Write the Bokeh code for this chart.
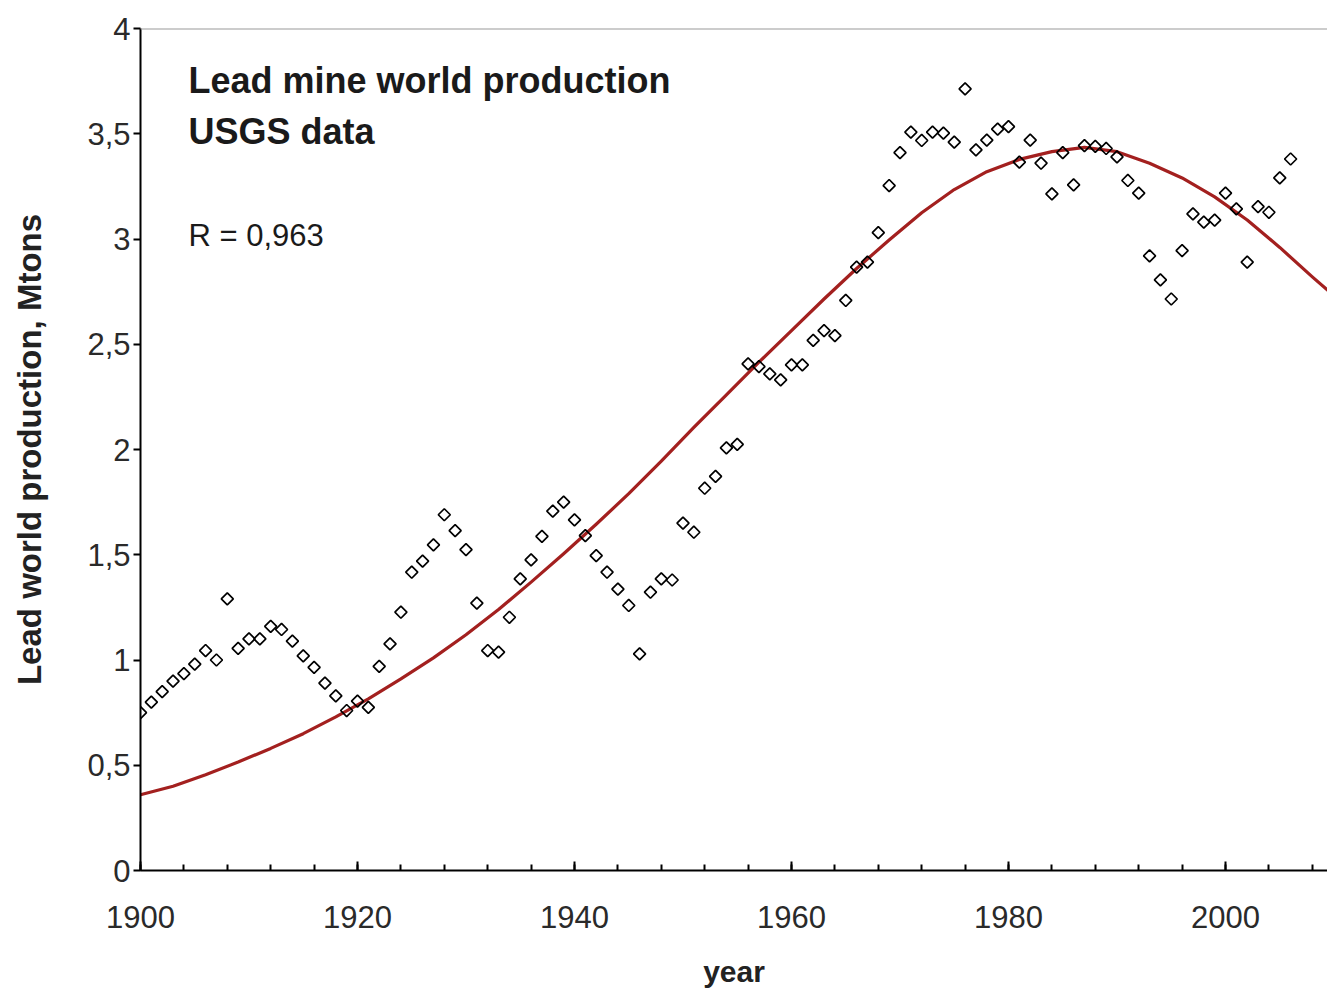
from bokeh.plotting import figure
from bokeh.models import FixedTicker, Label, Span, Range1d
from bokeh.embed import file_html
from bokeh.resources import INLINE

# Annual lead mine world production (Mt)
years = list(range(1900, 2007))
production = [
    0.75, 0.80, 0.85, 0.90, 0.935, 0.98, 1.045, 1.00, 1.29, 1.055,      # 1900s
    1.10, 1.10, 1.16, 1.145, 1.09, 1.02, 0.965, 0.89, 0.83, 0.76,       # 1910s
    0.805, 0.775, 0.97, 1.077, 1.227, 1.417, 1.47, 1.547, 1.69, 1.615,  # 1920s
    1.524, 1.27, 1.045, 1.037, 1.203, 1.385, 1.476, 1.587, 1.707, 1.75,  # 1930s
    1.666, 1.591, 1.496, 1.417, 1.337, 1.259, 1.029, 1.322, 1.385, 1.38,  # 1940s
    1.65, 1.607, 1.816, 1.872, 2.008, 2.024, 2.407, 2.394, 2.359, 2.331,  # 1950s
    2.402, 2.402, 2.518, 2.565, 2.541, 2.708, 2.866, 2.89, 3.03, 3.254,   # 1960s
    3.41, 3.508, 3.468, 3.508, 3.503, 3.46, 3.713, 3.423, 3.47, 3.522,    # 1970s
    3.534, 3.365, 3.47, 3.36, 3.214, 3.41, 3.257, 3.444, 3.44, 3.43,      # 1980s
    3.39, 3.278, 3.218, 2.92, 2.806, 2.715, 2.945, 3.119, 3.08, 3.09,     # 1990s
    3.218, 3.143, 2.89, 3.154, 3.127, 3.29, 3.38,                         # 2000s
]

# Fitted production curve
fit_years = [1900, 1903, 1906, 1909, 1912, 1915, 1918, 1921, 1924, 1927,
             1930, 1933, 1936, 1939, 1942, 1945, 1948, 1951, 1954, 1957,
             1960, 1963, 1966, 1969, 1972, 1975, 1978, 1981, 1984, 1987,
             1990, 1993, 1996, 1999, 2002, 2005, 2008, 2010]
fit_values = [0.36, 0.40, 0.455, 0.515, 0.58, 0.65, 0.73, 0.815, 0.91, 1.01,
              1.12, 1.24, 1.37, 1.505, 1.645, 1.79, 1.945, 2.105, 2.26, 2.415,
              2.565, 2.715, 2.86, 2.995, 3.125, 3.235, 3.32, 3.378, 3.415, 3.435,
              3.415, 3.36, 3.29, 3.20, 3.09, 2.96, 2.82, 2.73]

x_major = [1900, 1920, 1940, 1960, 1980, 2000]
x_minor = list(range(1900, 2012, 4))
y_ticks = [0, 0.5, 1, 1.5, 2, 2.5, 3, 3.5, 4]
y_tick_labels = ["0", "0,5", "1", "1,5", "2", "2,5", "3", "3,5", "4"]

FONT = "Liberation Sans"
TICK_COLOR = "#2a2a2a"

p = figure(width=1327, height=995, output_backend="svg", toolbar_location=None,
           x_range=Range1d(1900, 2009.4), y_range=Range1d(0, 4),
           min_border_left=140, min_border_right=0, min_border_top=28,
           min_border_bottom=125)
p.background_fill_color = "white"
p.border_fill_color = "white"
p.outline_line_color = None
p.xgrid.visible = False
p.ygrid.visible = False

# top edge of the plot area
p.add_layout(Span(location=4, dimension="width", line_color="#9a9a9a", line_width=2))

# fitted curve
p.line(fit_years, fit_values, line_color="#a3201f", line_width=3.2,
       line_join="round")

# yearly data as open diamonds
p.scatter(years, production, marker="square", angle=0.785398, size=8.5,
          line_color="black", line_width=1.7, fill_color=None)

# x axis
xa = p.xaxis[0]
xa.ticker = FixedTicker(ticks=x_major, minor_ticks=x_minor)
xa.axis_line_color = "black"
xa.axis_line_width = 2
xa.major_tick_in = 9
xa.major_tick_out = 0
xa.minor_tick_in = 6
xa.minor_tick_out = 0
xa.major_tick_line_width = 2
xa.minor_tick_line_width = 2
xa.major_label_standoff = 35
xa.major_label_text_font = FONT
xa.major_label_text_font_size = "31px"
xa.major_label_text_color = TICK_COLOR
xa.axis_label = "year"
xa.axis_label_text_font = FONT
xa.axis_label_text_font_style = "bold"
xa.axis_label_text_font_size = "30px"
xa.axis_label_text_color = "#222222"
xa.axis_label_standoff = 24

# y axis
ya = p.yaxis[0]
ya.ticker = FixedTicker(ticks=y_ticks, minor_ticks=[])
ya.major_label_overrides = {t: s for t, s in zip(y_ticks, y_tick_labels)}
ya.axis_line_color = "black"
ya.axis_line_width = 2
ya.major_tick_in = 0
ya.major_tick_out = 7
ya.major_tick_line_width = 2
ya.major_label_standoff = 3
ya.major_label_text_font = FONT
ya.major_label_text_font_size = "31px"
ya.major_label_text_color = TICK_COLOR
ya.axis_label = "Lead world production, Mtons"
ya.axis_label_text_font = FONT
ya.axis_label_text_font_style = "bold"
ya.axis_label_text_font_size = "33px"
ya.axis_label_text_color = "#222222"
ya.axis_label_standoff = 36

# annotations
for txt, y, style, size in [("Lead mine world production", 3.752, "bold", "36px"),
                            ("USGS data", 3.51, "bold", "36px"),
                            ("R = 0,963", 3.015, "normal", "31px")]:
    p.add_layout(Label(x=1904.42, y=y, text=txt, text_font=FONT,
                       text_font_style=style, text_font_size=size,
                       text_color="#1a1a1a", text_baseline="alphabetic"))

open("out.html", "w").write(file_html(p, INLINE))
